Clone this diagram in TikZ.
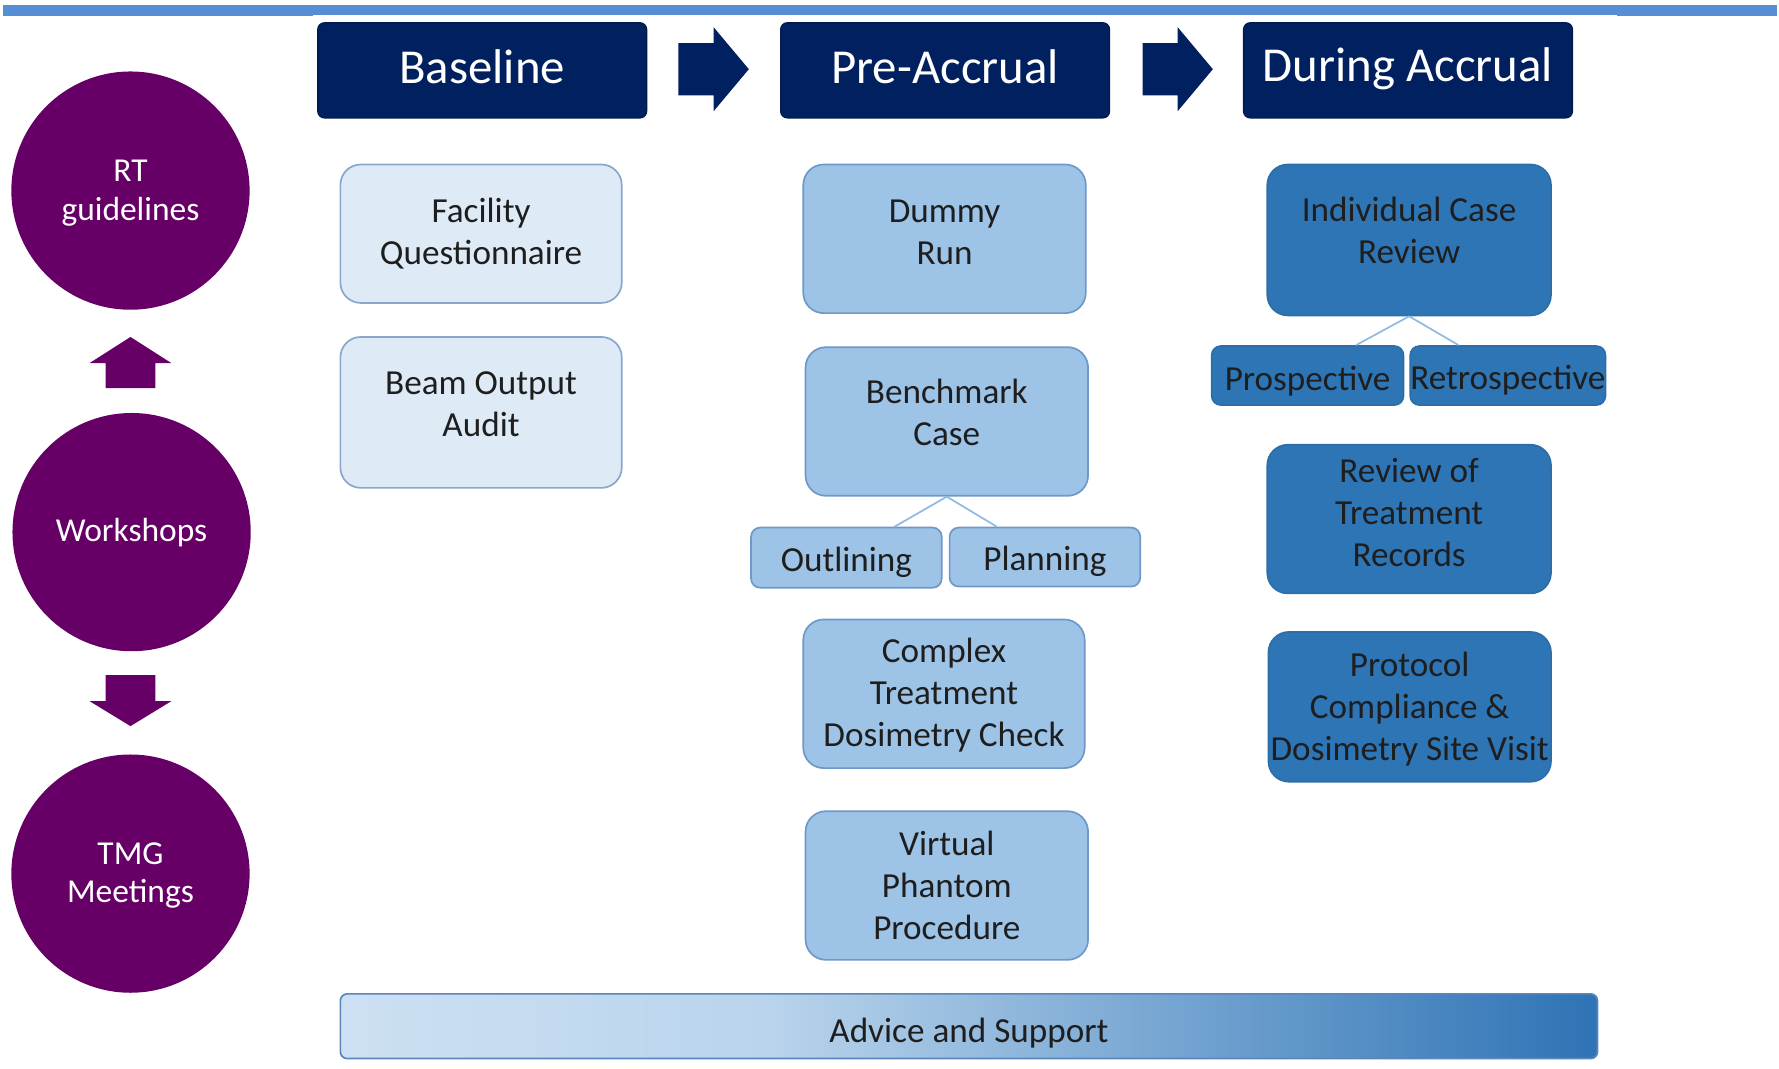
\documentclass[tikz,border=0pt]{standalone}
\usepackage{fontspec}
\setmainfont{Carlito}
\usetikzlibrary{calc}
\definecolor{navy}{HTML}{002060}
\definecolor{purp}{HTML}{660066}
\definecolor{topline}{HTML}{558ED5}
\definecolor{lfill}{HTML}{DEEBF7}
\definecolor{ldraw}{HTML}{8AA6CB}
\definecolor{mfill}{HTML}{9DC3E6}
\definecolor{mdraw}{HTML}{6F98C8}
\definecolor{dfill}{HTML}{2E75B6}
\definecolor{ddraw}{HTML}{2D6DA8}
\definecolor{conncol}{HTML}{8DB9E3}
\definecolor{txt}{HTML}{1E1E1E}
\definecolor{advA}{HTML}{CDE0F3}
\definecolor{advB}{HTML}{B9D4EC}
\definecolor{advC}{HTML}{2E73B5}
\definecolor{advdraw}{HTML}{5A86BC}
\pgfdeclarehorizontalshading{adv}{100bp}{color(0bp)=(advA); color(25bp)=(advA); color(42bp)=(advB); color(75bp)=(advC); color(100bp)=(advC)}
\begin{document}
\begin{tikzpicture}[x=1pt,y=-1pt,
  hdr/.style={fill=navy, draw=navy!80!black, line width=1pt, rounded corners=6,
    minimum width=290, minimum height=84, inner sep=0pt},
  hlab/.style={text=white, font=\fontsize{43}{50}\selectfont, inner sep=0pt},
  circ/.style={circle, fill=purp, minimum size=210, inner sep=0pt},
  clab/.style={text=white, align=center, font=\fontsize{29.5}{34}\selectfont, inner sep=0pt},
  boxbase/.style={rounded corners=18, line width=1.5pt, inner sep=0pt},
  lab/.style={align=center, font=\fontsize{31}{37}\selectfont, text=txt, inner sep=0pt},
  lbox/.style={boxbase, fill=lfill, draw=ldraw},
  mbox/.style={boxbase, fill=mfill, draw=mdraw},
  dbox/.style={boxbase, fill=dfill, draw=ddraw},
  small/.style={rounded corners=8},
  conn/.style={draw=conncol, line width=1.5pt},
  chevron/.pic={\fill[navy] (0,-23) -- (31,-23) -- (31,-37) -- (62,0) -- (31,37) -- (31,23) -- (0,23) -- cycle;},
  blockup/.pic={\fill[purp] (0,0) -- (36,23) -- (22,23) -- (22,45) -- (-22,45) -- (-22,23) -- (-36,23) -- cycle;},
  blockdown/.pic={\fill[purp] (0,0) -- (36,-22) -- (22,-22) -- (22,-45) -- (-22,-45) -- (-22,-22) -- (-36,-22) -- cycle;}
]
\useasboundingbox (0,0) rectangle (1568,942);

% top rule
\fill[topline] (3,4.5) rectangle (1566,13);
\fill[topline] (3,4.5) rectangle (276,14);
\fill[topline] (1425,4.5) rectangle (1566,14);

% headers
\node[hdr, label={[hlab, yshift=3pt]center:Baseline}] (base) at (425,62) {};
\node[hdr, label={[hlab, yshift=3pt]center:Pre-Accrual}] (pre) at (833,62) {};
\node[hdr, label={[hlab, yshift=1pt]center:During Accrual}] (dur) at (1241,62) {};
\pic at (598,61) {chevron};
\pic at (1007,61) {chevron};

% left circles
\node[circ, label={[clab, yshift=-2pt]center:{RT\\guidelines}}] (rt) at (115,168) {};
\node[circ, label={[clab]center:Workshops}] (ws) at (116,469) {};
\node[circ, label={[clab, yshift=-1.5pt]center:{TMG\\Meetings}}] (tmg) at (115,770) {};
\pic at (115,297) {blockup};
\pic at (115,640) {blockdown};

% Baseline column
\node[lbox, minimum width=248, minimum height=122, label={[lab]center:{Facility\\Questionnaire}}] (fq) at (424,206) {};
\node[lbox, minimum width=248, minimum height=133, label={[lab, yshift=7pt]center:{Beam Output\\Audit}}] (boa) at (424,363.5) {};

% Pre-Accrual column
\node[mbox, minimum width=249, minimum height=131, label={[lab, yshift=6pt]center:{Dummy\\Run}}] (dummy) at (832.5,210.5) {};
\node[mbox, minimum width=249, minimum height=131, label={[lab, yshift=8pt]center:{Benchmark\\Case}}] (bench) at (834.5,371.5) {};
\node[mbox, small, minimum width=168, minimum height=53, label={[lab, yshift=-4pt]center:Outlining}] (outl) at (746,491.5) {};
\node[mbox, small, minimum width=168, minimum height=52, label={[lab, yshift=-4pt]center:Planning}] (plan) at (921,491) {};
\node[mbox, minimum width=248, minimum height=131, label={[lab, yshift=-1pt]center:{Complex\\Treatment\\Dosimetry Check}}] (ctdc) at (832,611.5) {};
\node[mbox, minimum width=249, minimum height=131, label={[lab]center:{Virtual\\Phantom\\Procedure}}] (vpp) at (834.5,780.5) {};
\draw[conn] (bench.south) -- ($(outl.north)!0.5!(outl.north east)$);
\draw[conn] (bench.south) -- ($(plan.north)!0.5!(plan.north west)$);

% During Accrual column
\node[dbox, minimum width=250, minimum height=133, label={[lab, yshift=8pt]center:{Individual Case\\Review}}] (icr) at (1242,211.5) {};
\node[dbox, small, minimum width=169, minimum height=52, label={[lab, yshift=-5pt]center:Prospective}] (pros) at (1152.5,331) {};
\node[dbox, small, minimum width=172, minimum height=52, label={[lab, yshift=-4pt]center:Retrospective}] (retro) at (1329,331) {};
\node[dbox, minimum width=250, minimum height=131, label={[lab, yshift=6pt]center:{Review of\\Treatment\\Records}}] (rtr) at (1242,457.5) {};
\node[dbox, minimum width=249, minimum height=132, label={[lab, yshift=-2pt]center:{Protocol\\Compliance \&\\Dosimetry Site Visit}}] (pcd) at (1242.5,623) {};
\draw[conn] (icr.south) -- ($(pros.north)!0.5!(pros.north east)$);
\draw[conn] (icr.south) -- ($(retro.north)!0.5!(retro.north west)$);

% Advice bar
\node[shade, shading=adv, draw=advdraw, line width=1.5pt, rounded corners=6,
  minimum width=1108, minimum height=57, inner sep=0pt,
  label={[lab, yshift=-6pt]center:Advice and Support}] (adv) at (854,904.5) {};
\end{tikzpicture}
\end{document}
